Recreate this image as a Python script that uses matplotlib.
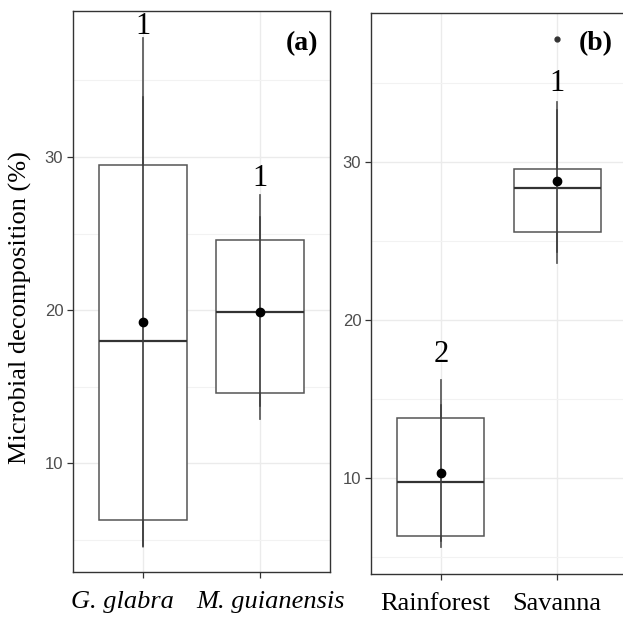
import matplotlib.pyplot as plt
import matplotlib.ticker as mticker
from matplotlib.transforms import ScaledTranslation

# panel (a): species
species = ["G. glabra", "M. guianensis"]
q1_a = [6.3, 14.6]
med_a = [18.0, 19.9]
q3_a = [29.5, 24.6]
whislo_a = [4.6, 12.9]
whishi_a = [37.8, 27.5]
mean_a = [19.2, 19.9]
sd_a = [14.7, 6.2]
letters_a = ["1", "1"]
letter_y_a = [38.5, 28.6]

# panel (b): habitat
habitats = ["Rainforest", "Savanna"]
q1_b = [6.3, 25.6]
med_b = [9.75, 28.35]
q3_b = [13.8, 29.55]
whislo_b = [5.6, 23.6]
whishi_b = [16.2, 33.8]
mean_b = [10.3, 28.8]
sd_b = [4.3, 4.5]
fliers_b = [[], [37.8]]
letters_b = ["2", "1"]
letter_y_b = [17.8, 35.0]

serif = "Liberation Serif"
sans = "Liberation Sans"


def panel(ax, labels, q1, med, q3, lo, hi, mean, sd, letters, ly, fliers, ylim, tag, tagpos,
          italic, label_shift):
    stats = []
    for i in range(len(labels)):
        stats.append(dict(q1=q1[i], med=med[i], q3=q3[i], whislo=lo[i], whishi=hi[i],
                          fliers=fliers[i], label=labels[i]))
    pos = list(range(len(labels)))
    ax.bxp(stats, positions=pos, widths=0.75, showcaps=False, patch_artist=True,
           boxprops=dict(facecolor="white", edgecolor="#555555", linewidth=1.1),
           medianprops=dict(color="#333333", linewidth=1.6),
           whiskerprops=dict(color="#666666", linewidth=1.1),
           flierprops=dict(marker="o", markersize=3.5, markerfacecolor="#333333",
                           markeredgecolor="#333333"), zorder=3)
    # whiskers over the box, as in the reference
    for i in pos:
        ax.plot([i, i], [lo[i], hi[i]], color="#666666", lw=1.1, zorder=4)
        ax.plot([i, i], [mean[i] - sd[i], mean[i] + sd[i]], color="black", lw=1.1,
                alpha=0.45, zorder=5)
        ax.plot(i, mean[i], "o", color="black", ms=6, zorder=6)
        ax.text(i, ly[i], letters[i], ha="center", va="center", fontsize=22,
                family=serif, color="black", zorder=7)

    ax.set_xlim(-0.6, len(labels) - 0.4)
    ax.set_ylim(*ylim)
    ax.yaxis.set_major_locator(mticker.MultipleLocator(10))
    ax.yaxis.set_minor_locator(mticker.MultipleLocator(5))
    ax.grid(True, which="major", color="#ebebeb", lw=1.0, zorder=0)
    ax.grid(True, which="minor", axis="y", color="#f2f2f2", lw=0.8, zorder=0)
    ax.set_axisbelow(True)
    ax.tick_params(axis="both", which="major", length=4, width=0.9, color="#333333")
    ax.tick_params(axis="y", labelcolor="#4d4d4d", labelsize=12, pad=3)
    ax.tick_params(axis="x", pad=10)
    ax.tick_params(which="minor", length=0)
    ax.set_xticks(pos)
    ax.set_xticklabels(labels, family=serif, fontsize=19,
                       style="italic" if italic else "normal", color="black")
    for lab, dx in zip(ax.get_xticklabels(), label_shift):
        lab.set_transform(lab.get_transform() + ScaledTranslation(dx / 100, 0, fig.dpi_scale_trans))
    for lab in ax.get_yticklabels():
        lab.set_family(sans)
    for s in ax.spines.values():
        s.set_color("#333333")
        s.set_linewidth(1.0)
    ax.text(tagpos[0], tagpos[1], tag, transform=ax.transAxes, ha="center", va="center",
            fontsize=20, fontweight="bold", family=serif)


fig = plt.figure(figsize=(6.23, 6.17), dpi=100)
ax_a = fig.add_axes([0.1172, 0.0729, 0.4125, 0.9093])
ax_b = fig.add_axes([0.5955, 0.0697, 0.4109, 0.9092])

panel(ax_a, species, q1_a, med_a, q3_a, whislo_a, whishi_a, mean_a, sd_a, letters_a,
      letter_y_a, [[], []], (2.88, 39.54), "(a)", (0.89, 0.941), True, (-21, 11))
panel(ax_b, habitats, q1_b, med_b, q3_b, whislo_b, whishi_b, mean_b, sd_b, letters_b,
      letter_y_b, fliers_b, (3.9, 39.46), "(b)", (0.879, 0.946), False, (-6, 0))

ax_a.set_ylabel("Microbial decomposition (%)", family=serif, fontsize=19)
ax_a.yaxis.set_label_coords(-0.16, 0.472)

fig.savefig("out.png", dpi=100)
